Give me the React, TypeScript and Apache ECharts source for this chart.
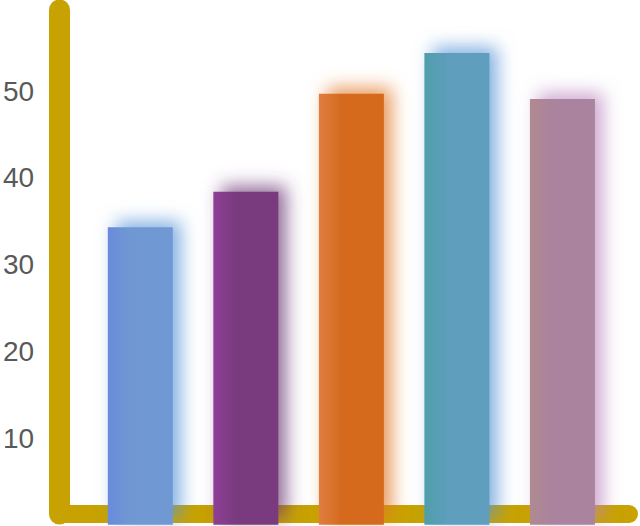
import React, { useEffect, useRef } from "react";
import * as echarts from "echarts";

const categories = ["1", "2", "3", "4", "5"];
const values = [34.3, 38.4, 49.7, 54.4, 49.1];
const mainColors = ["#7098D3", "#793A7E", "#D56A1E", "#5E9EBC", "#AA839E"];
const edgeColors = ["#6A8BDB", "#8E3F96", "#E07E40", "#4F9EAA", "#AF8A90"];
const glowColors = [
  "rgba(90,150,215,0.75)",
  "rgba(110,60,120,0.75)",
  "rgba(225,120,40,0.75)",
  "rgba(90,150,215,0.75)",
  "rgba(185,130,190,0.7)",
];
const yMin = 0;
const yMax = 60;
const yInterval = 10;

const axisColor = "#C8A200";

export default function App() {
  const ref = useRef<HTMLDivElement>(null);
  useEffect(() => {
    if (!ref.current) return;
    const chart = echarts.init(ref.current, undefined, { renderer: "svg" });
    const option = {
      animation: false,
      backgroundColor: "#ffffff",
      grid: [
        { left: 59, right: 11, top: 10, bottom: 12 },
        { left: 87.4, right: 24.8, top: 4.5, bottom: 1.3 },
      ],
      xAxis: [
        {
          gridIndex: 0,
          type: "value",
          min: 0,
          max: 1,
          axisLine: { show: true, onZero: false, lineStyle: { color: axisColor, width: 18, cap: "round" } },
          axisTick: { show: false },
          axisLabel: { show: false },
          splitLine: { show: false },
        },
        {
          gridIndex: 1,
          type: "category",
          data: categories,
          show: false,
        },
      ],
      yAxis: [
        {
          gridIndex: 0,
          type: "value",
          min: 0,
          max: 1,
          axisLine: { show: true, onZero: false, lineStyle: { color: axisColor, width: 21, cap: "round" } },
          axisTick: { show: false },
          axisLabel: { show: false },
          splitLine: { show: false },
        },
        {
          gridIndex: 1,
          type: "value",
          min: yMin,
          max: yMax,
          interval: yInterval,
          offset: 28.4,
          axisLine: { show: false },
          axisTick: { show: false },
          splitLine: { show: false },
          axisLabel: {
            margin: 25,
            fontSize: 28,
            color: "#595959",
            fontFamily: "Liberation Sans, Arial, sans-serif",
            showMinLabel: false,
            showMaxLabel: false,
          },
        },
      ],
      series: [
        {
          type: "bar",
          xAxisIndex: 1,
          yAxisIndex: 1,
          barWidth: 65,
          z: 3,
          data: values.map((v, i) => ({
            value: v,
            itemStyle: {
              color: {
                type: "linear",
                x: 0,
                y: 0,
                x2: 1,
                y2: 0,
                colorStops: [
                  { offset: 0, color: edgeColors[i] },
                  { offset: 0.35, color: mainColors[i] },
                  { offset: 1, color: mainColors[i] },
                ],
              },
              shadowColor: glowColors[i],
              shadowBlur: 18,
              shadowOffsetX: 8,
              shadowOffsetY: -6,
            },
          })),
        },
      ],
    };
    chart.setOption(option as any);
    return () => chart.dispose();
  }, []);
  return (
    <div
      ref={ref}
      style={{ position: "absolute", left: 0, top: 0, width: 640, height: 526 }}
    />
  );
}
